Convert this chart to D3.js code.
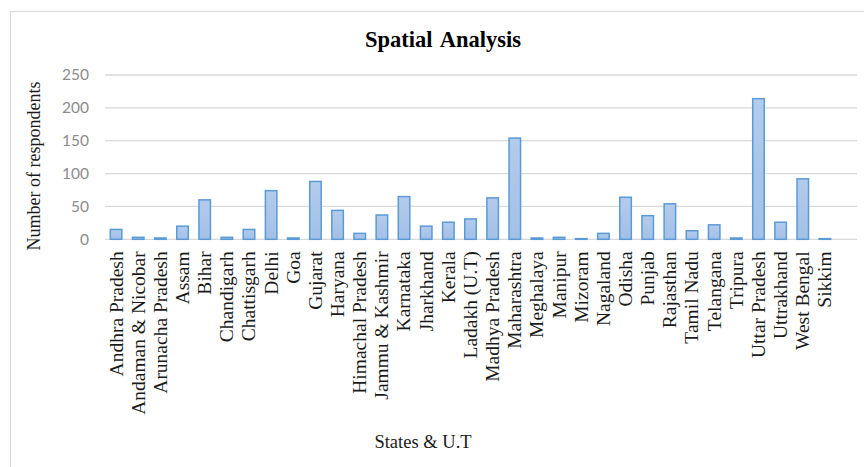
<!DOCTYPE html>
<html>
<head>
<meta charset="utf-8">
<script src="https://cdn.jsdelivr.net/npm/d3@7"></script>
<style>
  body { margin: 0; background: #fff; }
  svg { display: block; }
</style>
</head>
<body>
<div id="chart"></div>
<script>
// data
const states = [
    "Andhra Pradesh", "Andaman & Nicobar", "Arunacha Pradesh", "Assam", "Bihar",
    "Chandigarh", "Chattisgarh", "Delhi", "Goa", "Gujarat", "Haryana",
    "Himachal Pradesh", "Jammu & Kashmir", "Karnataka", "Jharkhand", "Kerala",
    "Ladakh (U.T)", "Madhya Pradesh", "Maharashtra", "Meghalaya", "Manipur",
    "Mizoram", "Nagaland", "Odisha", "Punjab", "Rajasthan", "Tamil Nadu",
    "Telangana", "Tripura", "Uttar Pradesh", "Uttrakhand", "West Bengal", "Sikkim"
];
const respondents = [
    15, 3, 2, 20, 60,
    3, 15, 74, 2, 88, 44,
    9, 37, 65, 20, 26,
    31, 63, 154, 2, 3,
    1, 9, 64, 36, 54, 13,
    22, 2, 214, 26, 92, 1
];
const yTicks = [0, 50, 100, 150, 200, 250];

const title = "Spatial Analysis";
const xTitle = "States & U.T";
const yTitle = "Number of respondents";

const W = 864, H = 467;
const plot = { left: 105, right: 836, top: 75, bottom: 239.3, gridEnd: 857 };
const serif = "'Liberation Serif', 'Times New Roman', serif";

const svg = d3.select("#chart").append("svg")
    .attr("width", W)
    .attr("height", H);

// chart area frame (runs off the right/bottom edge like the reference)
svg.append("rect")
    .attr("x", 10.5).attr("y", 11.5)
    .attr("width", 900).attr("height", 500)
    .attr("fill", "#fff")
    .attr("stroke", "#d9d9d9")
    .attr("stroke-width", 1.2);

const defs = svg.append("defs");
const grad = defs.append("linearGradient")
    .attr("id", "barFill")
    .attr("x1", 0).attr("y1", 0).attr("x2", 0).attr("y2", 1);
grad.append("stop").attr("offset", "0%").attr("stop-color", "#b3cbec");
grad.append("stop").attr("offset", "100%").attr("stop-color", "#a3c0e8");

const x = d3.scaleBand()
    .domain(states)
    .range([plot.left, plot.right])
    .paddingInner(0.48)
    .paddingOuter(0.24);

const y = d3.scaleLinear()
    .domain([0, 250])
    .range([plot.bottom, plot.top]);

// gridlines
svg.append("g")
    .selectAll("line")
    .data(yTicks)
    .join("line")
    .attr("x1", plot.left)
    .attr("x2", plot.gridEnd)
    .attr("y1", d => y(d))
    .attr("y2", d => y(d))
    .attr("stroke", "#d9d9d9")
    .attr("stroke-width", 1.3);

// y axis labels
const yAxis = d3.axisLeft(y).tickValues(yTicks).tickSize(0).tickPadding(0);
svg.append("g")
    .attr("transform", `translate(89,0)`)
    .call(yAxis)
    .call(g => g.select(".domain").remove())
    .selectAll("text")
    .attr("font-family", "Lato, 'Open Sans', sans-serif")
    .attr("font-size", 15.5)
    .attr("fill", "#8c8c8c");

// bars
svg.append("g")
    .selectAll("rect")
    .data(respondents)
    .join("rect")
    .attr("x", (d, i) => x(states[i]))
    .attr("width", x.bandwidth())
    .attr("y", d => y(d))
    .attr("height", d => y(0) - y(d))
    .attr("fill", "url(#barFill)")
    .attr("stroke", "#5b9bd5")
    .attr("stroke-width", 1.5);

// category labels (rotated)
const xAxis = d3.axisBottom(x).tickSize(0).tickPadding(0);
svg.append("g")
    .attr("transform", `translate(0,${plot.bottom})`)
    .call(xAxis)
    .call(g => g.select(".domain").remove())
    .selectAll("text")
    .attr("font-family", serif)
    .attr("font-size", 19.5)
    .attr("fill", "#1a1a1a")
    .attr("text-anchor", "end")
    .attr("transform", "rotate(-90)")
    .attr("x", -12)
    .attr("y", 0)
    .attr("dy", "0.33em");

// title
svg.append("text")
    .attr("x", 443)
    .attr("y", 47)
    .attr("text-anchor", "middle")
    .attr("font-family", serif)
    .attr("font-weight", "bold")
    .attr("font-size", 22.5)
    .attr("word-spacing", 3)
    .attr("fill", "#000")
    .text(title);

// axis titles
svg.append("text")
    .attr("x", 423)
    .attr("y", 448)
    .attr("text-anchor", "middle")
    .attr("font-family", serif)
    .attr("font-size", 18.5)
    .attr("fill", "#1a1a1a")
    .text(xTitle);

svg.append("text")
    .attr("transform", "translate(40,166) rotate(-90)")
    .attr("text-anchor", "middle")
    .attr("font-family", serif)
    .attr("font-size", 18)
    .attr("fill", "#1a1a1a")
    .text(yTitle);
</script>
</body>
</html>
